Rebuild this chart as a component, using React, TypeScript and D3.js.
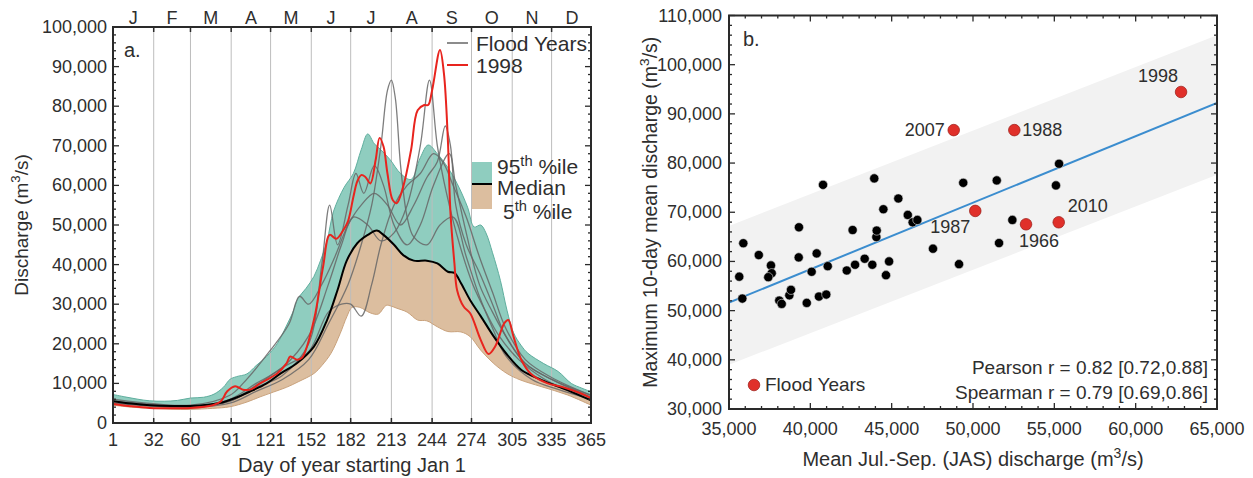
import React from 'react';
import * as d3 from 'd3';

// ---------- DATA ----------
const MONTHS = ['J', 'F', 'M', 'A', 'M', 'J', 'J', 'A', 'S', 'O', 'N', 'D'];
const MONTH_START = [1, 32, 60, 91, 121, 152, 182, 213, 244, 274, 305, 335, 366];
const DAY_TICKS = [1, 32, 60, 91, 121, 152, 182, 213, 244, 274, 305, 335, 365];
const Y_TICKS_A = [0, 10000, 20000, 30000, 40000, 50000, 60000, 70000, 80000, 90000, 100000];

const P95: [number, number][] = [
  [1, 7200], [10, 6600], [20, 6000], [29, 5600], [40, 5500], [50, 5700], [60, 6300], [70, 6500],
  [78, 7300], [85, 9000], [90, 11000], [95, 11700], [103, 12400], [110, 14500], [118, 16800],
  [126, 20000], [133, 24500], [138, 28000], [142, 31500], [148, 34000], [154, 37000], [159, 41000],
  [164, 46000], [169, 53500], [177, 59500], [184, 63000], [190, 69000], [195, 73000], [200, 70500],
  [205, 69000], [212, 66500], [220, 63000], [228, 61500], [235, 67000], [241, 70200], [248, 68000],
  [256, 64500], [263, 60500], [271, 54500], [276, 49500], [281, 50000], [285, 48000], [290, 43000],
  [296, 36000], [301, 28500], [306, 22800], [312, 19500], [317, 17600], [329, 15000], [340, 13000],
  [350, 10000], [358, 8800], [365, 7900],
];

const MEDIAN: [number, number][] = [
  [1, 5500], [15, 4900], [29, 4500], [45, 4300], [60, 4300], [75, 4700], [83, 5100], [93, 6200],
  [105, 7900], [118, 10000], [129, 12600], [141, 15100], [154, 19300], [164, 26000], [172, 33600],
  [179, 41000], [187, 45400], [195, 47500], [202, 48600], [207, 47500], [215, 45000], [222, 42400],
  [230, 41000], [240, 41000], [248, 40300], [256, 38200], [261, 37900], [266, 35300], [273, 31000],
  [281, 27000], [291, 21800], [301, 17300], [312, 13400], [327, 10900], [347, 8300], [365, 5700],
];

const P05: [number, number][] = [
  [1, 4500], [15, 4000], [30, 3700], [45, 3500], [60, 3450], [77, 3700], [90, 4100], [103, 5300],
  [113, 6600], [123, 7800], [133, 9000], [142, 10400], [154, 12500], [160, 14500], [167, 17600],
  [174, 22600], [179, 26800], [183, 29200], [189, 29200], [193, 28500], [197, 27800], [203, 27500],
  [209, 29700], [213, 29500], [217, 29000], [225, 28000], [233, 26000], [240, 25800], [248, 24300],
  [256, 23100], [266, 23000], [273, 21800], [281, 18400], [291, 15000], [301, 12500], [311, 10900],
  [327, 9200], [347, 7100], [365, 4500],
];

const Y1998: [number, number][] = [
  [1, 4800], [15, 4200], [29, 3800], [45, 3700], [60, 3800], [77, 4500], [83, 5400], [88, 8000],
  [94, 9300], [100, 8400], [106, 8500], [113, 10000], [126, 12500], [133, 15000], [136, 16800],
  [141, 16000], [145, 16500], [154, 26000], [161, 39500], [166, 47500], [171, 46500], [176, 48500],
  [180, 51000], [184, 57000], [187, 61000], [190, 62600], [193, 62200], [197, 60500], [201, 66400],
  [204, 72000], [207, 69800], [210, 63000], [214, 56300], [217, 55500], [222, 59700], [228, 69000],
  [233, 79000], [238, 80300], [241, 80300], [244, 84000], [250, 94200], [253, 88300], [256, 71500],
  [258, 53000], [261, 40300], [263, 33600], [268, 29400], [273, 27700], [281, 21000], [287, 17400],
  [292, 19300], [299, 25200], [302, 26000], [306, 21800], [312, 15900], [319, 12500], [332, 10000],
  [342, 9200], [357, 7500], [365, 6300],
];

const FLOOD_2007: [number, number][] = [
  [1, 5000], [60, 4000], [90, 5000], [110, 8000], [130, 11000], [150, 16000], [165, 25000],
  [180, 35000], [190, 45000], [198, 55000], [205, 70000], [210, 84000], [213, 86600], [216, 82000],
  [220, 65000], [225, 52000], [230, 47000], [240, 45000], [250, 50000], [260, 52000], [270, 42000],
  [280, 32000], [290, 24000], [300, 17000], [320, 11000], [340, 8500], [365, 6000],
];
const FLOOD_1988: [number, number][] = [
  [1, 5500], [60, 4200], [90, 6000], [110, 10000], [130, 14000], [150, 22000], [165, 35000],
  [175, 45000], [184, 52000], [195, 50000], [205, 46000], [215, 48000], [225, 55000], [235, 70000],
  [242, 86600], [248, 70000], [255, 58000], [265, 45000], [275, 35000], [285, 28000], [295, 22000],
  [310, 16000], [330, 11000], [350, 8000], [365, 6500],
];
const FLOOD_1966: [number, number][] = [
  [1, 6000], [60, 4500], [90, 7000], [100, 10000], [120, 18000], [135, 25000], [143, 32000],
  [150, 30000], [160, 35000], [170, 42000], [180, 50000], [190, 55000], [200, 58000], [210, 55000],
  [220, 50000], [230, 55000], [240, 62000], [248, 66000], [254, 75000], [258, 70000], [262, 55000],
  [270, 45000], [280, 38000], [290, 30000], [300, 22000], [315, 15000], [335, 11000], [365, 7000],
];
const FLOOD_1987: [number, number][] = [
  [1, 5000], [60, 4000], [90, 5500], [110, 9000], [130, 12000], [150, 20000], [160, 40000],
  [166, 55000], [172, 45000], [180, 55000], [186, 63000], [192, 58000], [200, 65000], [207, 60000],
  [215, 50000], [225, 45000], [235, 50000], [245, 60000], [257, 68000], [262, 60000], [270, 48000],
  [280, 35000], [290, 28000], [300, 22000], [315, 15000], [335, 11000], [365, 6500],
];
const FLOOD_2010: [number, number][] = [
  [1, 5500], [60, 4300], [90, 5500], [110, 9500], [130, 14000], [150, 18000], [165, 28000],
  [175, 30000], [182, 30000], [190, 27000], [198, 35000], [205, 45000], [215, 55000], [225, 60000],
  [235, 63000], [245, 68000], [252, 66000], [260, 60000], [270, 52000], [280, 42000], [290, 33000],
  [300, 24000], [315, 16000], [335, 11500], [365, 7000],
];
const FLOOD_LINES = [FLOOD_2007, FLOOD_1988, FLOOD_1966, FLOOD_1987, FLOOD_2010];

// panel b
const X_TICKS_B = [35000, 40000, 45000, 50000, 55000, 60000, 65000];
const Y_TICKS_B = [30000, 40000, 50000, 60000, 70000, 80000, 90000, 100000, 110000];

const OTHER_YEARS: [number, number][] = [
  [35630, 56900], [35880, 63700], [35820, 52450], [36830, 61300], [37580, 59180], [37625, 57610],
  [37416, 56800], [38090, 52040], [38240, 51370], [38710, 53120], [38810, 54220], [39300, 66940],
  [39285, 60820], [39780, 51570], [40080, 57900], [40390, 61630], [40780, 75570], [40530, 52860],
  [40980, 53270], [41070, 59040], [42240, 58160], [42600, 66390], [42750, 59330], [43340, 60550],
  [43810, 59330], [43930, 76880], [44060, 64960], [44080, 66270], [44490, 70610], [44650, 57200],
  [44840, 60000], [45410, 72800], [45990, 69450], [46290, 67960], [46580, 68430], [47540, 62590],
  [49400, 75980], [51460, 76470], [55290, 79860], [55100, 75450], [52420, 68430], [51600, 63735],
  [49140, 59450],
];
const FLOOD_YEARS = ['1998', '2007', '1988', '1987', '1966', '2010'];
const FLOOD_JAS = [62790, 48815, 52540, 50140, 53260, 55270];
const FLOOD_MAX10 = [94450, 86700, 86700, 70270, 67550, 67960];

const REG_INTERCEPT = 4240;
const REG_SLOPE = 1.354;
const BAND_UPPER: [number, number][] = [[35000, 67200], [65000, 106000]];
const BAND_LOWER: [number, number][] = [[35000, 39000], [65000, 77600]];

// ---------- LAYOUT ----------
const FONT = 'Liberation Sans, Arial, Helvetica, sans-serif';
const TXT = '#2e2e2e';
const FRAME = '#2a2a2a';

const xA = d3.scaleLinear().domain([1, 365]).range([113, 591]);
const yA = d3.scaleLinear().domain([0, 100000]).range([423, 27]);
const xB = d3.scaleLinear().domain([35000, 65000]).range([729, 1217]);
const yB = d3.scaleLinear().domain([30000, 110000]).range([409, 15.5]);

const fmt = d3.format(',');

const lineA = d3
  .line<[number, number]>()
  .x((d) => xA(d[0]))
  .y((d) => yA(d[1]))
  .curve(d3.curveCatmullRom.alpha(0.5));

function bandPath(upper: [number, number][], lower: [number, number][]) {
  const a = lineA(upper) as string;
  const b = lineA(lower.slice().reverse()) as string;
  return a + 'L' + b.slice(1) + 'Z';
}

// label placement for flood-year annotations (styling, not data)
const LABEL_POS: Record<string, { dx: number; dy: number; anchor: string }> = {
  '1998': { dx: -3, dy: -10, anchor: 'end' },
  '2007': { dx: -9, dy: 6, anchor: 'end' },
  '1988': { dx: 8, dy: 6, anchor: 'start' },
  '1987': { dx: -5, dy: 22, anchor: 'end' },
  '1966': { dx: -7, dy: 23, anchor: 'start' },
  '2010': { dx: 9, dy: -10, anchor: 'start' },
};

function Sup({ base, sup, tail }: { base: string; sup: string; tail: string }) {
  return (
    <>
      <tspan>{base}</tspan>
      <tspan dy={-8} fontSize="0.7em">{sup}</tspan>
      <tspan dy={8}>{tail}</tspan>
    </>
  );
}

function PanelA() {
  const [x0, x1] = xA.range();
  const [y0, y1] = yA.range();
  const minorY = d3.range(0, 100001, 2000);
  return (
    <g>
      <defs>
        <clipPath id="clipA">
          <rect x={x0} y={y1} width={x1 - x0} height={y0 - y1} />
        </clipPath>
      </defs>
      <g clipPath="url(#clipA)">
        <path d={bandPath(P95, MEDIAN)} fill="#8fcdbf" />
        <path d={bandPath(MEDIAN, P05)} fill="#dcbe9f" />
        {DAY_TICKS.slice(1, -1).map((d) => (
          <line key={d} x1={xA(d)} x2={xA(d)} y1={y1} y2={y0} stroke="#bdbdbd" strokeWidth={1} />
        ))}
        <path d={lineA(P95) as string} fill="none" stroke="#5fae9e" strokeWidth={1} />
        <path d={lineA(P05) as string} fill="none" stroke="#c9a27c" strokeWidth={1} />
        {FLOOD_LINES.map((s, i) => (
          <path key={i} d={lineA(s) as string} fill="none" stroke="#666" strokeOpacity={0.85} strokeWidth={1.3} />
        ))}
        <path d={lineA(MEDIAN) as string} fill="none" stroke="#000" strokeWidth={2} />
        <path d={lineA(Y1998) as string} fill="none" stroke="#e8241e" strokeWidth={2} />
      </g>
      {DAY_TICKS.map((d) => (
        <g key={d}>
          <line x1={xA(d)} x2={xA(d)} y1={y0} y2={y0 - 5} stroke={FRAME} strokeWidth={1.5} />
          <line x1={xA(d)} x2={xA(d)} y1={y1} y2={y1 + 5} stroke={FRAME} strokeWidth={1.5} />
          <text x={xA(d)} y={446} textAnchor="middle" fontSize={18} fill={TXT}>{d}</text>
        </g>
      ))}
      {minorY.map((v) => {
        const major = v % 10000 === 0;
        const L = major ? 6 : 3;
        return (
          <g key={v}>
            <line x1={x0} x2={x0 + L} y1={yA(v)} y2={yA(v)} stroke={FRAME} strokeWidth={1.3} />
            <line x1={x1} x2={x1 - L} y1={yA(v)} y2={yA(v)} stroke={FRAME} strokeWidth={1.3} />
          </g>
        );
      })}
      {Y_TICKS_A.map((v) => (
        <text key={v} x={x0 - 6} y={yA(v) + 6} textAnchor="end" fontSize={18} fill={TXT}>{fmt(v)}</text>
      ))}
      {MONTHS.map((m, i) => (
        <text key={i} x={xA((MONTH_START[i] + MONTH_START[i + 1]) / 2)} y={24} textAnchor="middle" fontSize={18} fill={TXT}>
          {m}
        </text>
      ))}
      <rect x={x0} y={y1} width={x1 - x0} height={y0 - y1} fill="none" stroke={FRAME} strokeWidth={2} />
      <text x={124} y={57} fontSize={20} fill={TXT}>a.</text>
      {/* legend */}
      <line x1={447} x2={468} y1={43} y2={43} stroke="#666" strokeWidth={1.5} />
      <text x={476} y={51} fontSize={21} fill={TXT}>Flood Years</text>
      <line x1={447} x2={468} y1={65} y2={65} stroke="#e8241e" strokeWidth={2} />
      <text x={476} y={73} fontSize={21} fill={TXT}>1998</text>
      <rect x={472} y={162} width={20} height={22} fill="#8fcdbf" />
      <rect x={472} y={184} width={20} height={25} fill="#dcbe9f" />
      <line x1={472} x2={492} y1={184} y2={184} stroke="#000" strokeWidth={2} />
      <text x={497} y={174} fontSize={21} fill={TXT}>
        <Sup base="95" sup="th" tail=" %ile" />
      </text>
      <text x={497} y={195} fontSize={21} fill={TXT}>Median</text>
      <text x={503} y={219} fontSize={21} fill={TXT}>
        <Sup base="5" sup="th" tail=" %ile" />
      </text>
      {/* axis titles */}
      <text x={352} y={472} textAnchor="middle" fontSize={20} fill={TXT}>Day of year starting Jan 1</text>
      <text transform={`translate(28,${(y0 + y1) / 2}) rotate(-90)`} textAnchor="middle" fontSize={19} fill={TXT}>
        <Sup base="Discharge (m" sup="3" tail="/s)" />
      </text>
    </g>
  );
}

function PanelB() {
  const [x0, x1] = xB.range();
  const [y0, y1] = yB.range();
  const lineB = d3.line<[number, number]>().x((d) => xB(d[0])).y((d) => yB(d[1]));
  const bandD = (lineB(BAND_UPPER) as string) + 'L' + (lineB(BAND_LOWER.slice().reverse()) as string).slice(1) + 'Z';
  const regPts: [number, number][] = xB.domain().map((x) => [x, REG_INTERCEPT + REG_SLOPE * x]);
  const minorX = d3.range(35000, 65001, 1000);
  const minorY = d3.range(30000, 110001, 2000);
  return (
    <g>
      <defs>
        <clipPath id="clipB">
          <rect x={x0} y={y1} width={x1 - x0} height={y0 - y1} />
        </clipPath>
      </defs>
      <g clipPath="url(#clipB)">
        <path d={bandD} fill="#f2f2f2" />
        <path d={lineB(regPts) as string} fill="none" stroke="#3b8dcf" strokeWidth={2} />
        {OTHER_YEARS.map((p, i) => (
          <circle key={i} cx={xB(p[0])} cy={yB(p[1])} r={4.6} fill="#000" stroke="#ddd" strokeWidth={0.6} />
        ))}
        {FLOOD_YEARS.map((yr, i) => (
          <circle key={yr} cx={xB(FLOOD_JAS[i])} cy={yB(FLOOD_MAX10[i])} r={5.8} fill="#e0302a" stroke="#9a1a14" strokeWidth={0.7} />
        ))}
      </g>
      {FLOOD_YEARS.map((yr, i) => {
        const lp = LABEL_POS[yr];
        return (
          <text key={yr} x={xB(FLOOD_JAS[i]) + lp.dx} y={yB(FLOOD_MAX10[i]) + lp.dy} textAnchor={lp.anchor as any} fontSize={18} fill={TXT}>
            {yr}
          </text>
        );
      })}
      {minorX.map((v) => {
        const major = v % 5000 === 0;
        const L = major ? 6 : 3;
        return (
          <g key={v}>
            <line x1={xB(v)} x2={xB(v)} y1={y0} y2={y0 - L} stroke={FRAME} strokeWidth={1.3} />
            <line x1={xB(v)} x2={xB(v)} y1={y1} y2={y1 + L} stroke={FRAME} strokeWidth={1.3} />
          </g>
        );
      })}
      {minorY.map((v) => {
        const major = v % 10000 === 0;
        const L = major ? 6 : 3;
        return (
          <g key={v}>
            <line x1={x0} x2={x0 + L} y1={yB(v)} y2={yB(v)} stroke={FRAME} strokeWidth={1.3} />
            <line x1={x1} x2={x1 - L} y1={yB(v)} y2={yB(v)} stroke={FRAME} strokeWidth={1.3} />
          </g>
        );
      })}
      {X_TICKS_B.map((v) => (
        <text key={v} x={xB(v)} y={435} textAnchor="middle" fontSize={18} fill={TXT}>{fmt(v)}</text>
      ))}
      {Y_TICKS_B.map((v) => (
        <text key={v} x={x0 - 7} y={yB(v) + 6} textAnchor="end" fontSize={18} fill={TXT}>{fmt(v)}</text>
      ))}
      <rect x={x0} y={y1} width={x1 - x0} height={y0 - y1} fill="none" stroke={FRAME} strokeWidth={2} />
      <text x={743} y={46} fontSize={20} fill={TXT}>b.</text>
      <circle cx={754} cy={385} r={5.8} fill="#e0302a" stroke="#9a1a14" strokeWidth={0.7} />
      <text x={765} y={391} fontSize={19} fill={TXT}>Flood Years</text>
      <text x={1208} y={374} textAnchor="end" fontSize={19} fill={TXT}>Pearson r = 0.82 [0.72,0.88]</text>
      <text x={1208} y={399} textAnchor="end" fontSize={19} fill={TXT}>Spearman r = 0.79 [0.69,0.86]</text>
      <text x={(x0 + x1) / 2} y={466} textAnchor="middle" fontSize={20} fill={TXT}>
        <Sup base="Mean Jul.-Sep. (JAS) discharge (m" sup="3" tail="/s)" />
      </text>
      <text transform={`translate(657,${(y0 + y1) / 2}) rotate(-90)`} textAnchor="middle" fontSize={19.5} fill={TXT}>
        <Sup base="Maximum 10-day mean discharge (m" sup="3" tail="/s)" />
      </text>
    </g>
  );
}

export default function App() {
  return (
    <svg
      width={1253}
      height={478}
      viewBox="0 0 1253 478"
      style={{ position: 'absolute', left: 0, top: 0, background: '#fff' }}
      fontFamily={FONT}
    >
      <rect width={1253} height={478} fill="#fff" />
      <PanelA />
      <PanelB />
    </svg>
  );
}
